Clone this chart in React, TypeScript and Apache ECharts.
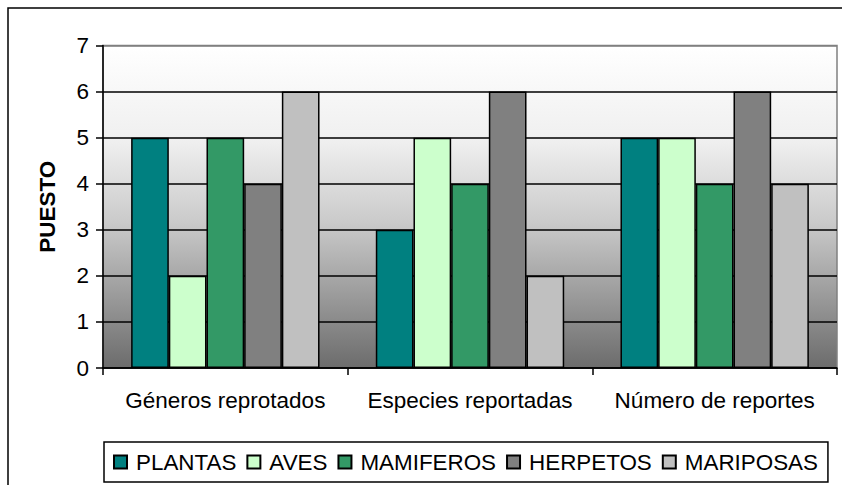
import React, { useEffect, useRef } from "react";
import * as echarts from "echarts";

const categories = ["Géneros reprotados", "Especies reportadas", "Número de reportes"];
const seriesNames = ["PLANTAS", "AVES", "MAMIFEROS", "HERPETOS", "MARIPOSAS"];
const plantas = [5, 3, 5];
const aves = [2, 5, 5];
const mamiferos = [5, 4, 4];
const herpetos = [4, 6, 6];
const mariposas = [6, 2, 4];
const seriesColors = ["#008080", "#CCFFCC", "#339966", "#808080", "#C0C0C0"];
const yTicks = [0, 1, 2, 3, 4, 5, 6, 7];

const FONT = "'Liberation Sans', Arial, sans-serif";

export default function App() {
  const ref = useRef<HTMLDivElement>(null);
  useEffect(() => {
    if (!ref.current) return;
    const chart = echarts.init(ref.current, null, { renderer: "svg" });
    const values = [plantas, aves, mamiferos, herpetos, mariposas];
    chart.setOption({
      animation: false,
      backgroundColor: "#ffffff",
      textStyle: { fontFamily: FONT },
      graphic: [
        {
          type: "rect",
          shape: { x: 8, y: 8, width: 900, height: 600 },
          style: { fill: "none", stroke: "#000", lineWidth: 1.5 },
          silent: true,
        },
      ],
      grid: {
        left: 103,
        top: 45.5,
        right: 5,
        bottom: 117,
        show: true,
        borderColor: "#808080",
        borderWidth: 1.5,
        backgroundColor: {
          type: "linear",
          x: 0,
          y: 0,
          x2: 0,
          y2: 1,
          colorStops: [
            { offset: 0, color: "#FFFFFF" },
            { offset: 0.3, color: "#EFEFEF" },
            { offset: 0.55, color: "#CACACA" },
            { offset: 0.78, color: "#9A9A9A" },
            { offset: 1, color: "#6C6C6C" },
          ],
        },
      },
      legend: {
        data: seriesNames,
        left: 104,
        top: 442,
        orient: "horizontal",
        icon: "rect",
        itemWidth: 13,
        itemHeight: 13,
        itemGap: 10,
        padding: [9, 10, 9, 9],
        borderColor: "#000",
        borderWidth: 1.5,
        backgroundColor: "#fff",
        textStyle: { fontSize: 22.4, color: "#000", fontFamily: FONT, padding: [0, 0, 0, 4] },
      },
      xAxis: {
        type: "category",
        data: categories,
        axisLine: { show: true, lineStyle: { color: "#000", width: 1.5 } },
        axisTick: { show: true, length: 7, alignWithLabel: false, lineStyle: { color: "#000", width: 1.5 } },
        axisLabel: { interval: 0, fontSize: 22.5, color: "#000", margin: 21, fontFamily: FONT },
        splitLine: { show: false },
      },
      yAxis: {
        type: "value",
        min: yTicks[0],
        max: yTicks[yTicks.length - 1],
        interval: 1,
        name: "PUESTO",
        nameLocation: "middle",
        nameRotate: 90,
        nameGap: 44,
        nameTextStyle: { fontSize: 22.5, fontWeight: "bold", color: "#000", fontFamily: FONT },
        axisLine: { show: true, lineStyle: { color: "#000", width: 1.5 } },
        axisTick: { show: true, length: 7, lineStyle: { color: "#000", width: 1.5 } },
        axisLabel: { fontSize: 22.5, color: "#000", margin: 14, fontFamily: FONT },
        splitLine: {
          show: true,
          lineStyle: {
            color: ["#000", "#000", "#000", "#000", "#000", "#000", "#000", "#808080"],
            width: 1.5,
          },
        },
      },
      series: seriesNames.map((name, i) => ({
        name,
        type: "bar",
        data: values[i],
        barGap: "0%",
        barCategoryGap: "23%",
        itemStyle: { color: seriesColors[i], borderColor: "#000", borderWidth: 1.5 },
      })),
    });
    return () => chart.dispose();
  }, []);
  return (
    <div
      ref={ref}
      style={{ position: "fixed", left: 0, top: 0, width: 842, height: 485 }}
    />
  );
}
